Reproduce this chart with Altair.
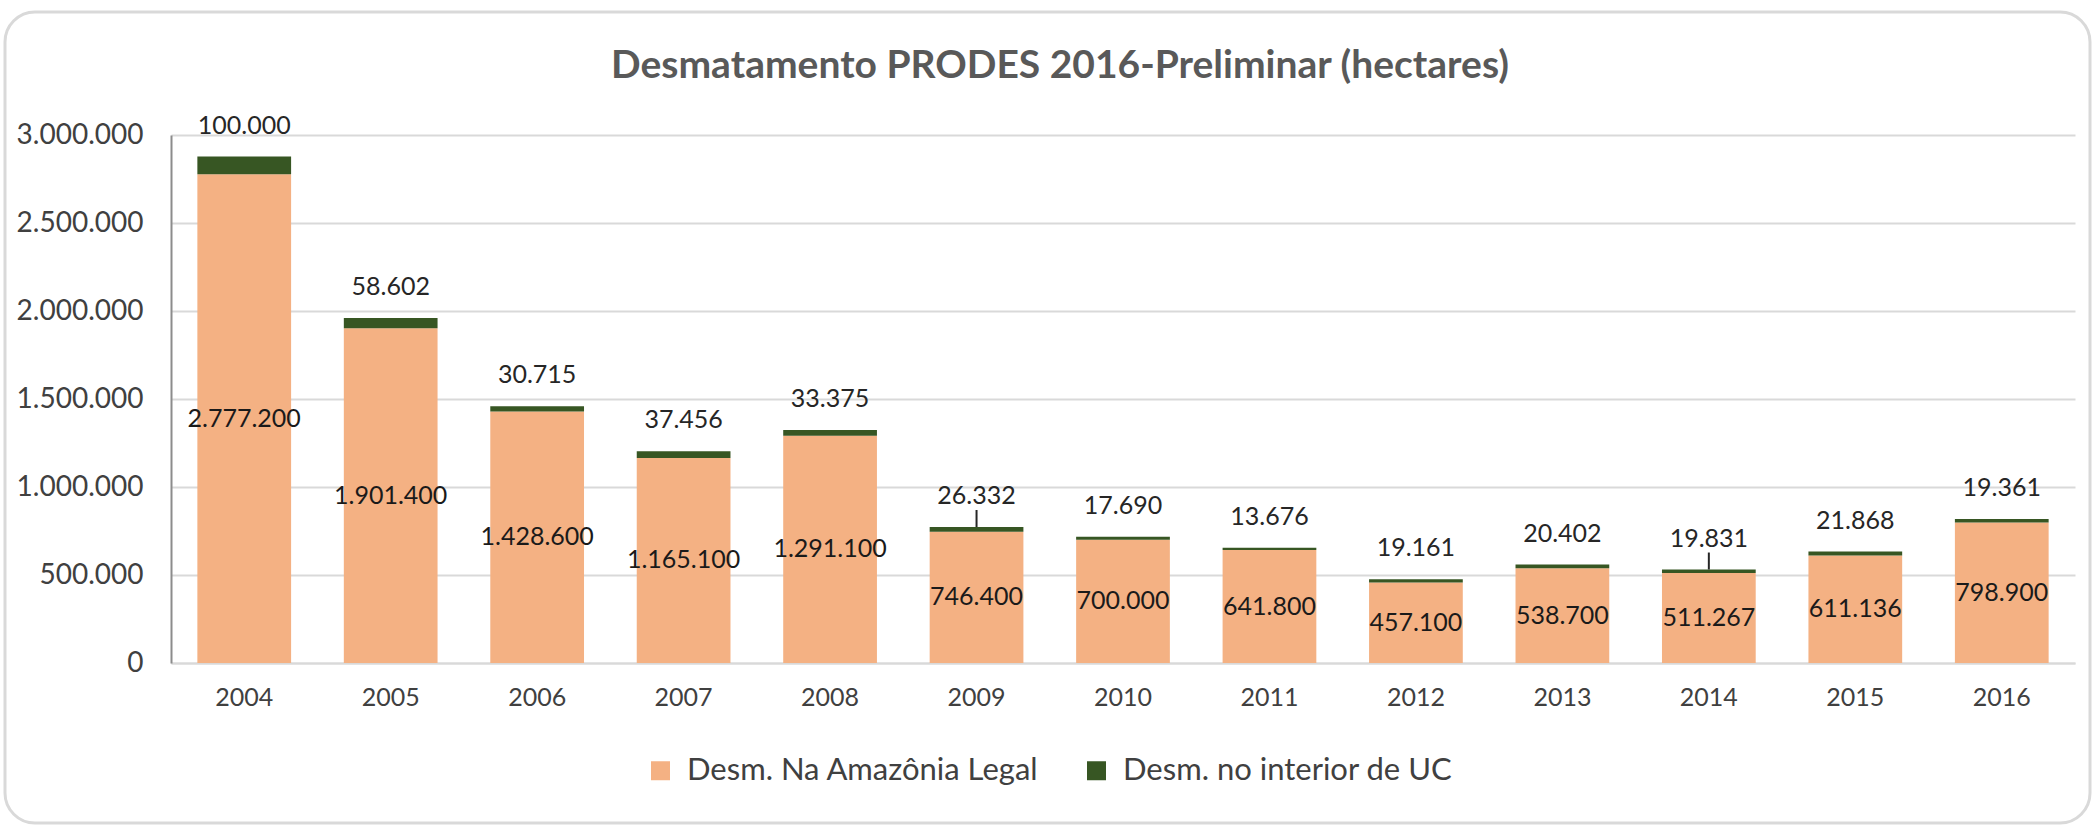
import altair as alt
import pandas as pd

# ---- data ----
anos = ["2004", "2005", "2006", "2007", "2008", "2009", "2010",
        "2011", "2012", "2013", "2014", "2015", "2016"]
desm_legal = [2777200, 1901400, 1428600, 1165100, 1291100, 746400, 700000,
              641800, 457100, 538700, 511267, 611136, 798900]
desm_uc = [100000, 58602, 30715, 37456, 33375, 26332, 17690,
           13676, 19161, 20402, 19831, 21868, 19361]
series = ["Desm. Na Amazônia Legal", "Desm. no interior de UC"]
cores = ["#F4B183", "#375623"]
y_ticks = [0, 500000, 1000000, 1500000, 2000000, 2500000, 3000000]
anos_com_linha = ["2009", "2014"]
titulo = "Desmatamento PRODES 2016-Preliminar (hectares)"

long_rows = []
for a, l, u in zip(anos, desm_legal, desm_uc):
    long_rows.append({"ano": a, "serie": series[0], "valor": l, "ordem": 0})
    long_rows.append({"ano": a, "serie": series[1], "valor": u, "ordem": 1})
df_long = pd.DataFrame(long_rows)
df_wide = pd.DataFrame({"ano": anos, "legal": desm_legal, "uc": desm_uc})

FONT = "Lato"
W, H = 1904, 528


def fmt(v):
    return "replace(replace(format(" + v + ", ','), ',', '.'), ',', '.')"


x_enc = alt.X(
    "ano:N", sort=anos,
    scale=alt.Scale(paddingInner=0.36, paddingOuter=0.18),
    axis=alt.Axis(title=None, labelAngle=0, ticks=False, tickSize=0,
                  labelPadding=22, labelFontSize=25, labelFont=FONT,
                  labelColor="#404040", domainColor="#D9D9D9",
                  domainWidth=2, grid=False),
)

bars = alt.Chart(df_long).mark_bar().encode(
    x=x_enc,
    y=alt.Y(
        "valor:Q", stack="zero",
        scale=alt.Scale(domain=[0, 3000000], nice=False),
        axis=alt.Axis(title=None, values=y_ticks,
                      labelExpr=fmt("datum.value"), ticks=False, tickSize=0,
                      labelPadding=28, labelFontSize=28, labelFont=FONT,
                      labelColor="#404040", domainColor="#8C8C8C",
                      domainWidth=2, gridColor="#D9D9D9", gridWidth=2),
    ),
    color=alt.Color(
        "serie:N", scale=alt.Scale(domain=series, range=cores),
        legend=alt.Legend(title=None, orient="none", legendX=474,
                          legendY=620, direction="horizontal", columns=2,
                          symbolType="square", symbolSize=361,
                          symbolStrokeWidth=0, labelFontSize=31,
                          labelFont=FONT, labelColor="#404040",
                          labelLimit=800, columnPadding=42, labelOffset=11),
    ),
    order=alt.Order("ordem:Q"),
)

inner = alt.Chart(df_wide).transform_calculate(
    meio="datum.legal / 2", rot=fmt("datum.legal")
).mark_text(font=FONT, fontSize=25, color="#1a1a1a", baseline="middle").encode(
    x=alt.X("ano:N", sort=anos), y=alt.Y("meio:Q"), text="rot:N"
)

topo = alt.Chart(df_wide).transform_calculate(
    total="datum.legal + datum.uc", rot=fmt("datum.uc")
).mark_text(font=FONT, fontSize=25, color="#262626", baseline="middle",
            dy=-31).encode(
    x=alt.X("ano:N", sort=anos), y=alt.Y("total:Q"), text="rot:N"
)

linhas = alt.Chart(df_wide).transform_filter(
    alt.FieldOneOfPredicate(field="ano", oneOf=anos_com_linha)
).transform_calculate(total="datum.legal + datum.uc").mark_rule(
    color="#262626", strokeWidth=2, y2Offset=-17
).encode(x=alt.X("ano:N", sort=anos), y=alt.Y("total:Q"), y2=alt.Y2("total"))

moldura = alt.Chart(pd.DataFrame({"k": [0]})).mark_rect(
    fill="#ffffff", fillOpacity=0, stroke="#D9D9D9", strokeWidth=3,
    cornerRadius=30
).encode(x=alt.value(-166), x2=alt.value(1919), y=alt.value(-123),
         y2=alt.value(688))

chart = alt.layer(moldura, bars, inner, topo, linhas).properties(
    width=W, height=H,
    autosize=alt.AutoSizeParams(type="none"),
    padding={"left": 171, "top": 135, "right": 20, "bottom": 162},
    title=alt.TitleParams(text=titulo, font=FONT, fontSize=39,
                          fontWeight="bold", color="#595959",
                          anchor="middle", baseline="alphabetic",
                          dx=-63, offset=-106),
    background="#ffffff",
).configure_view(strokeWidth=0)

chart.save("out.html", embed_options={"renderer": "svg", "actions": False})
